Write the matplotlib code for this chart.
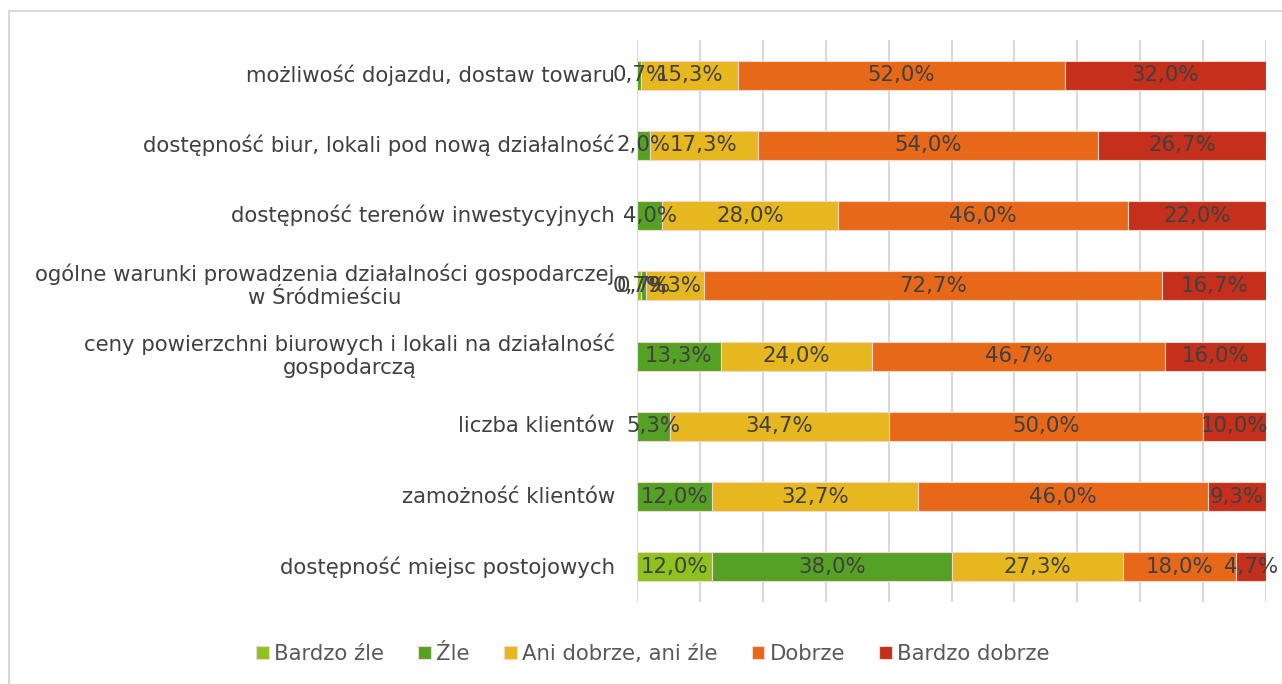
import matplotlib
matplotlib.use("Agg")
import matplotlib.pyplot as plt
from matplotlib.patches import Rectangle
import numpy as np

categories = [
    "możliwość dojazdu, dostaw towaru",
    "dostępność biur, lokali pod nową działalność",
    "dostępność terenów inwestycyjnych",
    "ogólne warunki prowadzenia działalności gospodarczej\nw Śródmieściu",
    "ceny powierzchni biurowych i lokali na działalność\ngospodarczą",
    "liczba klientów",
    "zamożność klientów",
    "dostępność miejsc postojowych",
]
series_names = ["Bardzo źle", "Źle", "Ani dobrze, ani źle", "Dobrze", "Bardzo dobrze"]
bardzo_zle = [0.0, 0.0, 0.0, 0.7, 0.0, 0.0, 0.0, 12.0]
zle = [0.7, 2.0, 4.0, 0.7, 13.3, 5.3, 12.0, 38.0]
ani = [15.3, 17.3, 28.0, 9.3, 24.0, 34.7, 32.7, 27.3]
dobrze = [52.0, 54.0, 46.0, 72.7, 46.7, 50.0, 46.0, 18.0]
bardzo_dobrze = [32.0, 26.7, 22.0, 16.7, 16.0, 10.0, 9.3, 4.7]
series = [bardzo_zle, zle, ani, dobrze, bardzo_dobrze]
colors = ["#8DC21F", "#55A125", "#E6B71E", "#E8681A", "#C4301C"]

FS = 15.3
plt.rcParams['font.family'] = ['DejaVu Sans']
fig = plt.figure(figsize=(12.82, 6.84), dpi=100)
ax = fig.add_axes([637/1282, 1-602/684, (1266-637)/1282, (602-40)/684])

y = np.arange(len(categories))
left = np.zeros(len(categories))
for name, vals, col in zip(series_names, series, colors):
    vals = np.array(vals)
    ax.barh(y, vals, left=left, height=0.41, color=col, label=name,
            edgecolor="#f4d6cc", linewidth=0.8, zorder=3)
    for yi, (l, v) in enumerate(zip(left, vals)):
        if v > 0:
            ax.text(l + v/2, yi, f"{v:.1f}%".replace(".", ","), ha="center", va="center",
                    fontsize=FS, color="#404040", zorder=4)
    left += vals

ax.set_xlim(0, 100)
ax.set_ylim(len(categories) - 0.5, -0.5)
ax.set_xticks(np.arange(0, 101, 10))
ax.set_xticklabels([])
ax.tick_params(axis="x", length=0)
ax.xaxis.grid(True, color="#d9d9d9", linewidth=1.5, zorder=0)
ax.set_yticks(y)
ax.set_yticklabels(categories, fontsize=FS, color="#404040", multialignment="center", va="center")
ax.tick_params(axis="y", length=0, pad=16)
for s in ax.spines.values():
    s.set_visible(False)

handles, labels = ax.get_legend_handles_labels()
fig.legend(handles, labels, loc="center", bbox_to_anchor=(653/1282, 1-654/684), ncol=5,
           frameon=False, fontsize=FS, handlelength=0.6, handleheight=0.6,
           handletextpad=0.25, columnspacing=1.6, labelcolor="#595959")

fig.patches.append(Rectangle((9/1282, -0.01), 1.0, 1-11/684+0.01, transform=fig.transFigure,
                             fill=False, edgecolor="#d9d9d9", linewidth=1.5))

fig.savefig("out.png", dpi=100)
